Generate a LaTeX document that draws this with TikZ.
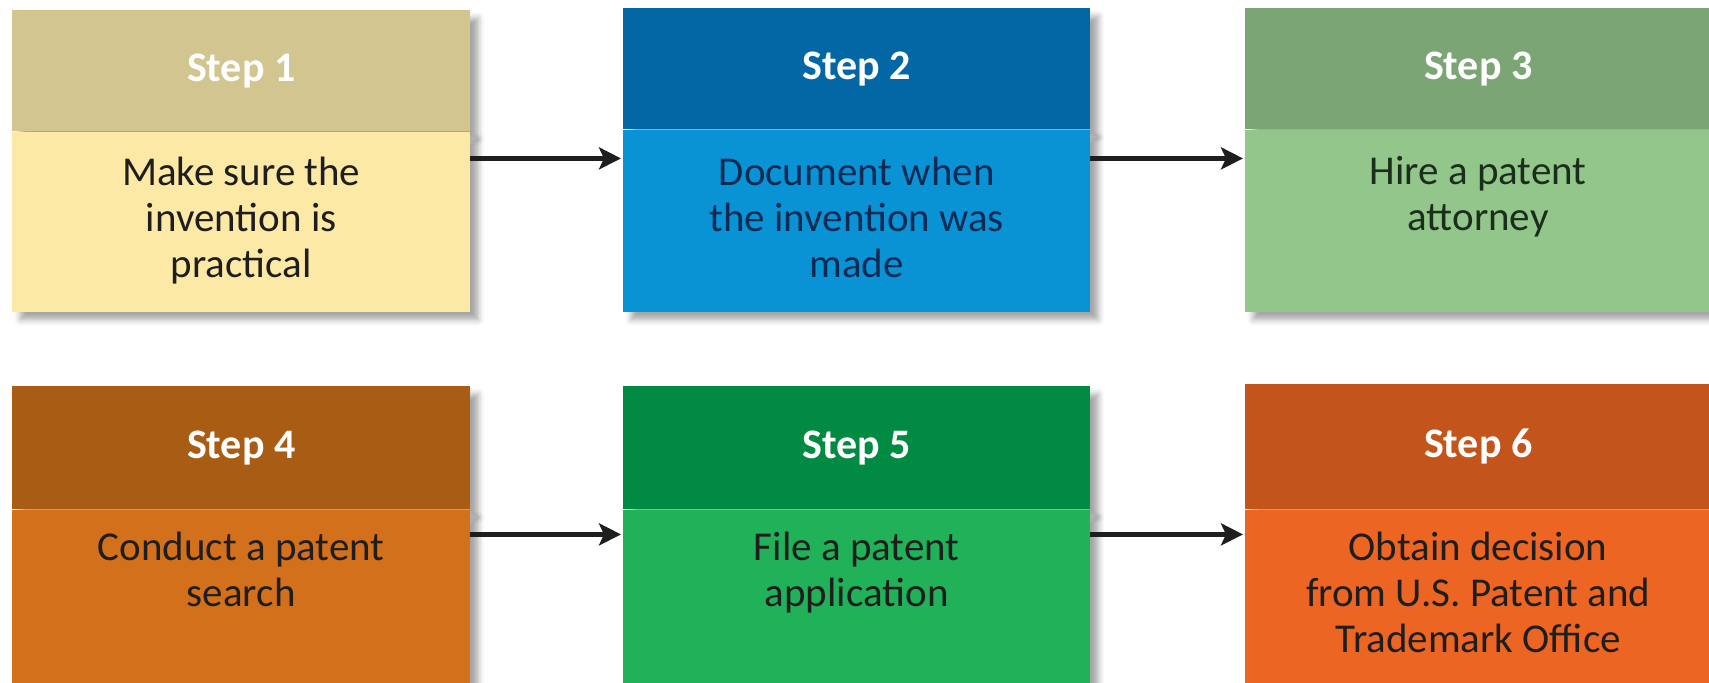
\documentclass[tikz,border=0pt]{standalone}
\usepackage{fontspec}
\setmainfont{Carlito}
\usetikzlibrary{arrows.meta,shadows.blur}
\definecolor{hA}{HTML}{D3C58F}\definecolor{bA}{HTML}{FDE9A6}
\definecolor{hB}{HTML}{0367A5}\definecolor{bB}{HTML}{0A93D4}
\definecolor{hC}{HTML}{7BA574}\definecolor{bC}{HTML}{93C68A}
\definecolor{hD}{HTML}{A95C13}\definecolor{bD}{HTML}{D3701B}
\definecolor{hE}{HTML}{018B42}\definecolor{bE}{HTML}{21B159}
\definecolor{hF}{HTML}{C3541C}\definecolor{bF}{HTML}{EC6523}
\definecolor{tdark}{HTML}{1E1E1E}\definecolor{tnavy}{HTML}{0B2B55}
\definecolor{tgreen}{HTML}{1B2E1B}\definecolor{arrowc}{HTML}{1E1E1E}
\begin{document}
\begin{tikzpicture}[x=1pt,y=-1pt,
  shd/.style={blur shadow={shadow xshift=8pt,shadow yshift=-8pt,shadow blur radius=6pt,shadow opacity=35}},
  hd/.style={rectangle,anchor=north west,inner sep=0pt,minimum height=121pt,text=white,
    font=\bfseries\fontsize{42}{46}\selectfont,shd},
  bd/.style={rectangle,anchor=north west,inner sep=0pt,shd},
  txt/.style={anchor=north,align=center,inner sep=0pt,font=\fontsize{41}{46}\selectfont},
  arr/.style={-{Stealth[length=22pt,width=22pt,inset=5pt]},line width=5pt,draw=arrowc}]
\useasboundingbox (0,0) rectangle (1709,683);
% row 1
\node[hd,minimum width=458pt,fill=hA] (h1) at (12,10) {Step 1};
\node[bd,minimum width=458pt,minimum height=180pt,fill=bA] (b1) at (h1.south west) {};
\node[txt,text=tdark] (t1) at ([yshift=-25pt]b1.north) {Make sure the\\invention is\\practical};
\node[hd,minimum width=467pt,fill=hB] (h2) at (623,8) {Step 2};
\node[bd,minimum width=467pt,minimum height=182pt,fill=bB] (b2) at (h2.south west) {};
\node[txt,text=tnavy] (t2) at ([yshift=-27pt]b2.north) {Document when\\the invention was\\made};
\node[hd,minimum width=466pt,fill=hC] (h3) at (1245,8) {Step 3};
\node[bd,minimum width=466pt,minimum height=182pt,fill=bC] (b3) at (h3.south west) {};
\node[txt,text=tgreen] (t3) at ([yshift=-27pt]b3.north) {Hire a patent\\attorney};
% row 2
\node[hd,minimum width=458pt,minimum height=123pt,fill=hD] (h4) at (12,386) {Step 4};
\node[bd,minimum width=458pt,minimum height=180pt,fill=bD] (b4) at (h4.south west) {};
\node[txt,text=tdark] (t4) at ([yshift=-22pt]b4.north) {Conduct a patent\\search};
\node[hd,minimum width=467pt,minimum height=123pt,fill=hE] (h5) at (623,386) {Step 5};
\node[bd,minimum width=467pt,minimum height=180pt,fill=bE] (b5) at (h5.south west) {};
\node[txt,text=tdark] (t5) at ([yshift=-22pt]b5.north) {File a patent\\application};
\node[hd,minimum width=466pt,minimum height=125pt,fill=hF] (h6) at (1245,384) {Step 6};
\node[bd,minimum width=466pt,minimum height=180pt,fill=bF] (b6) at (h6.south west) {};
\node[txt,text=tdark] (t6) at ([yshift=-22pt]b6.north) {Obtain decision\\from U.S. Patent and\\Trademark Office};
% arrows
\coordinate (a12) at ([yshift=-29pt]b2.north west);
\coordinate (a23) at ([yshift=-29pt]b3.north west);
\coordinate (a45) at ([yshift=-25pt]b5.north west);
\coordinate (a56) at ([yshift=-25pt]b6.north west);
\draw[arr] (b1.east |- a12) -- ([xshift=-2pt]a12);
\draw[arr] (b2.east |- a23) -- ([xshift=-2pt]a23);
\draw[arr] (b4.east |- a45) -- ([xshift=-2pt]a45);
\draw[arr] (b5.east |- a56) -- ([xshift=-2pt]a56);
\end{tikzpicture}
\end{document}
